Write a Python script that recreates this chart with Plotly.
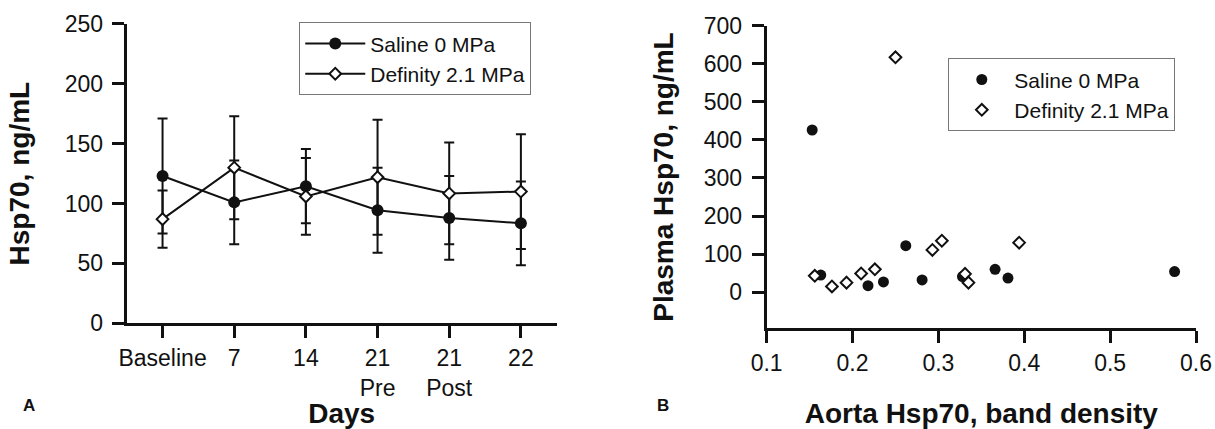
#######################################################
## .0.              Load Libraries               !!! ##
#######################################################
import plotly.graph_objects as go
from plotly.subplots import make_subplots

#######################################################
## .1.                   Data                    !!! ##
#######################################################
# Panel A: Hsp70 over time (mean +/- error)
days = ["Baseline", "7", "14", "21 Pre", "21 Post", "22"]
day_labels = ["Baseline", "7", "14", "21<br>Pre", "21<br>Post", "22"]
saline_mean = [123, 101, 114.5, 94.5, 88, 83.5]
saline_err = [48, 35, 31, 35.5, 35, 35]
definity_mean = [87, 130, 106, 122, 108.5, 110]
definity_err = [24, 43, 32, 48, 42.5, 48]

# Panel B: aorta band density vs plasma Hsp70
saline_density = [0.153, 0.163, 0.218, 0.236, 0.262, 0.281, 0.328, 0.366, 0.381, 0.575]
saline_plasma = [426, 45, 17, 27, 122, 32, 41, 60, 37, 54]
definity_density = [0.156, 0.176, 0.193, 0.210, 0.226, 0.250, 0.293, 0.304, 0.331, 0.335, 0.394]
definity_plasma = [43, 15, 25, 49, 60, 617, 111, 135, 48, 25, 130]

series_names = ["Saline 0 MPa", "Definity 2.1 MPa"]

FONT = "Liberation Sans, Arial, sans-serif"
INK = "#111111"


#######################################################
## .2.                 Plotly                    !!! ##
#######################################################
# ~~~~~~~~~~~~~~~~~~~~~~~~~~~~~~~~~~~~~~~~~~~~~~~~~~~~~~
def axis_style(font_size: float = 23) -> dict:
    """
    Common SigmaPlot-like axis look
    """
    return dict(
        automargin=False,
        showline=True,
        linecolor=INK,
        linewidth=3,
        showgrid=False,
        zeroline=False,
        ticks="outside",
        ticklen=12,
        tickwidth=3,
        tickcolor=INK,
        tickfont=dict(family=FONT, size=font_size, color=INK),
        title_font=dict(family=FONT, size=28, color=INK, weight="bold"),
    )


fig = make_subplots(rows=1, cols=2)

# Panel A lines
fig.add_trace(
    go.Scatter(
        x=days,
        y=saline_mean,
        name=series_names[0],
        mode="lines+markers",
        line=dict(color=INK, width=2),
        marker=dict(symbol="circle", size=12, color=INK),
        error_y=dict(type="data", array=saline_err, color=INK, thickness=2, width=5),
        legend="legend",
    ),
    row=1,
    col=1,
)
fig.add_trace(
    go.Scatter(
        x=days,
        y=definity_mean,
        name=series_names[1],
        mode="lines+markers",
        line=dict(color=INK, width=2),
        marker=dict(symbol="diamond", size=9, color="white", line=dict(color=INK, width=2)),
        error_y=dict(type="data", array=definity_err, color=INK, thickness=2, width=5),
        legend="legend",
    ),
    row=1,
    col=1,
)

# Panel B scatter
fig.add_trace(
    go.Scatter(
        x=saline_density,
        y=saline_plasma,
        name=series_names[0],
        mode="markers",
        marker=dict(symbol="circle", size=11, color=INK),
        legend="legend2",
    ),
    row=1,
    col=2,
)
fig.add_trace(
    go.Scatter(
        x=definity_density,
        y=definity_plasma,
        name=series_names[1],
        mode="markers",
        marker=dict(symbol="diamond", size=9, color="white", line=dict(color=INK, width=2)),
        legend="legend2",
    ),
    row=1,
    col=2,
)

legend_common = dict(
    bgcolor="white",
    bordercolor="#777777",
    borderwidth=1,
    font=dict(family=FONT, size=21, color=INK),
    xanchor="left",
    yanchor="top",
    tracegroupgap=0,
)

fig.update_layout(
    width=1215,
    height=429,
    margin=dict(l=0, r=0, t=0, b=0),
    plot_bgcolor="white",
    paper_bgcolor="white",
    font=dict(family=FONT, color=INK),
    legend=dict(x=0.2463, y=0.948, itemwidth=60, **legend_common),
    legend2=dict(x=0.7805, y=0.864, itemwidth=55, **legend_common),
    xaxis=dict(
        domain=[0.1043, 0.4582],
        type="category",
        range=[-0.5, 5.5],
        tickvals=days,
        ticktext=day_labels,
        title_text="Days",
        title_standoff=8,
        **axis_style(23),
    ),
    yaxis=dict(
        domain=[0.2464, 0.9441],
        range=[0, 250],
        dtick=50,
        ticklabelstandoff=4,
        title_text="Hsp70, ng/mL",
        title_standoff=27,
        **axis_style(23),
    ),
    xaxis2=dict(
        domain=[0.631, 0.9844],
        range=[0.1, 0.6],
        dtick=0.1,
        tickformat=".1f",
        title_text="Aorta Hsp70, band density",
        title_standoff=32,
        **axis_style(23),
    ),
    yaxis2=dict(
        domain=[0.2347, 0.9401],
        range=[-95, 700],
        tickvals=[0, 100, 200, 300, 400, 500, 600, 700],
        ticklabelstandoff=5,
        title_text="Plasma Hsp70, ng/mL",
        title_standoff=22,
        **axis_style(23),
    ),
)

# Panel letters
for letter, xpos in [("A", 21 / 1215), ("B", 663 / 1215)]:
    fig.add_annotation(
        x=xpos,
        y=1 - 417 / 429,
        xref="paper",
        yref="paper",
        text=letter,
        showarrow=False,
        font=dict(family=FONT, size=17, color=INK, weight="bold"),
    )

# drop the default page margin so the figure sits at the window's corner
fig.write_html(
    "out.html",
    config={"displayModeBar": False},
    post_script="document.body.style.margin = '0';",
)
